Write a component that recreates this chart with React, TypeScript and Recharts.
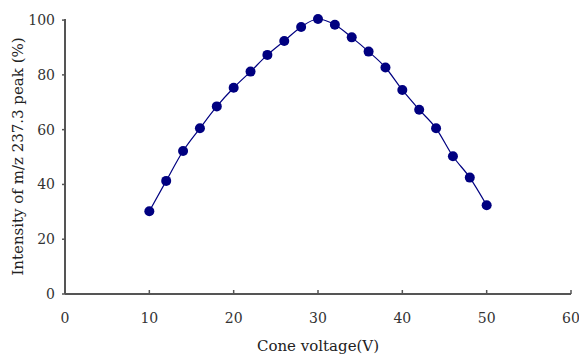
import React from "react";
import { LineChart, Line, XAxis, YAxis, Label } from "recharts";

const voltages = [10, 12, 14, 16, 18, 20, 22, 24, 26, 28, 30, 32, 34, 36, 38, 40, 42, 44, 46, 48, 50];
const intensities = [30.2, 41.3, 52.2, 60.5, 68.5, 75.3, 81.2, 87.3, 92.4, 97.5, 100.4, 98.3, 93.7, 88.5, 82.7, 74.5, 67.3, 60.5, 50.3, 42.5, 32.4];
const xTicks = [0, 10, 20, 30, 40, 50, 60];
const yTicks = [0, 20, 40, 60, 80, 100];

const data = voltages.map((v, i) => ({ v, y: intensities[i] }));

const FONT = "'DejaVu Serif', 'Liberation Serif', serif";
const AXIS = "#555555";

function XTick(props: any) {
  const { x, y, payload } = props;
  // y is axis line + tickMargin (tickSize 0)
  const axisY = y - 14;
  return (
    <g>
      <line x1={x} x2={x} y1={axisY} y2={axisY - 4} stroke={AXIS} strokeWidth={1.5} />
      <text x={x} y={y + 15} textAnchor="middle" fontFamily={FONT} fontSize={14} fill="#333">
        {payload.value}
      </text>
    </g>
  );
}

export default function App() {
  return (
    <div style={{ position: "absolute", left: 0, top: 0, background: "#fff" }}>
      <LineChart width={579} height={354} data={data} margin={{ top: 19, right: 8, bottom: 0, left: 0 }}>
        <XAxis
          dataKey="v"
          type="number"
          domain={[0, 60]}
          ticks={xTicks}
          tickSize={0}
          tickMargin={14}
          tick={<XTick />}
          height={60}
          stroke={AXIS}
          strokeWidth={2}
        >
          <Label
            content={(p: any) => {
              const vb = p.viewBox;
              return (
                <text
                  x={vb.x + vb.width / 2}
                  y={346}
                  textAnchor="middle"
                  dominantBaseline="central"
                  fontFamily={FONT}
                  fontSize={15}
                  fill="#222"
                >
                  Cone voltage(V)
                </text>
              );
            }}
          />
        </XAxis>
        <YAxis
          type="number"
          domain={[0, 100]}
          ticks={yTicks}
          width={65}
          tickSize={3}
          tickMargin={7}
          stroke={AXIS}
          strokeWidth={2}
          tick={{ fontFamily: FONT, fontSize: 14, fill: "#333" }}
          tickLine={{ stroke: AXIS, strokeWidth: 1.5 }}
        >
          <Label
            content={(p: any) => {
              const vb = p.viewBox;
              const cx = 18;
              const cy = vb.y + vb.height / 2;
              return (
                <text
                  x={cx}
                  y={cy}
                  transform={`rotate(-90, ${cx}, ${cy})`}
                  textAnchor="middle"
                  dominantBaseline="central"
                  fontFamily={FONT}
                  fontSize={15}
                  fill="#222"
                >
                  Intensity of m/z 237.3 peak (%)
                </text>
              );
            }}
          />
        </YAxis>
        <Line
          dataKey="y"
          type="monotone"
          stroke="#000080"
          strokeWidth={1.2}
          dot={{ r: 5, fill: "#000080", stroke: "#000080", strokeWidth: 0 }}
          isAnimationActive={false}
        />
      </LineChart>
    </div>
  );
}
